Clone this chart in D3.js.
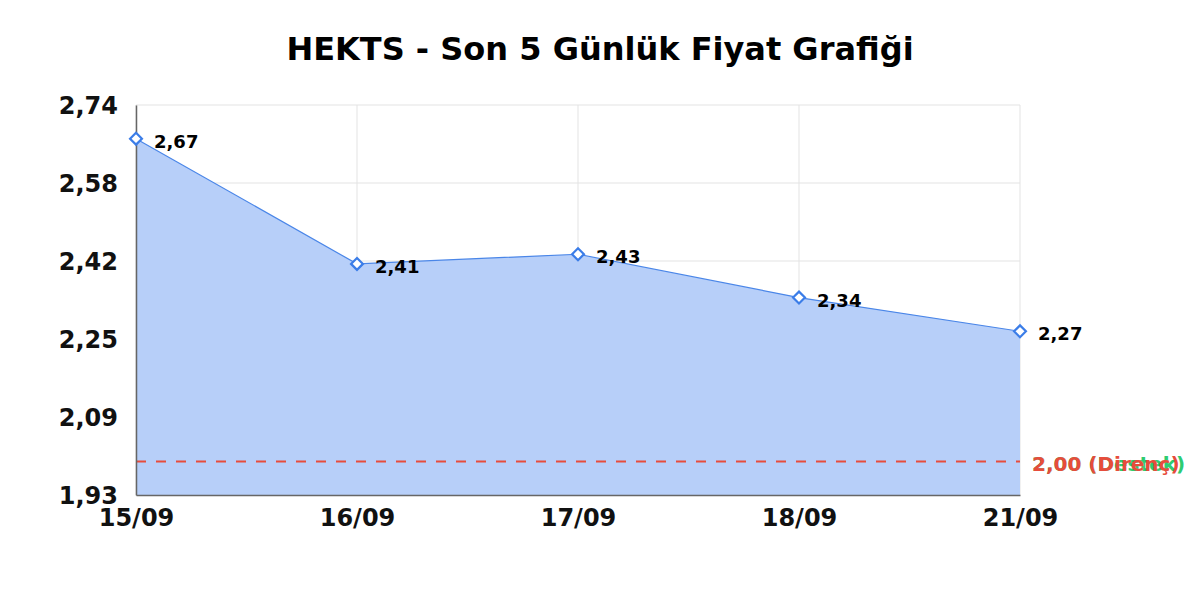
<!DOCTYPE html>
<html>
<head>
<meta charset="utf-8">
<script src="https://cdn.jsdelivr.net/npm/d3@7"></script>
<style>
  body { margin: 0; background: #fff; }
  text { font-family: "DejaVu Sans", sans-serif; font-weight: bold; }
</style>
</head>
<body>
<svg id="chart" width="1200" height="600"></svg>
<script>
const dates = ['15/09', '16/09', '17/09', '18/09', '21/09'];
const prices = [2.67, 2.41, 2.43, 2.34, 2.27];
const yTicks = [1.93, 2.09, 2.25, 2.42, 2.58, 2.74];
const levels = [
  { value: 2.00, label: '2,00 (Destek)', color: '#2ecc71' },
  { value: 2.00, label: '2,00 (Direnç)', color: '#e74c3c' }
];

const fmt = v => v.toFixed(2).replace('.', ',');

const svg = d3.select('#chart');
const m = { left: 136, right: 1020, top: 105, bottom: 495 };

const x = d3.scalePoint().domain(dates).range([m.left, m.right]);
const y = d3.scaleLinear().domain([1.93, 2.74]).range([m.bottom, m.top]);
const tickVals = d3.range(6).map(i => 1.93 + i * 0.162);

svg.append('text')
  .attr('x', 600).attr('y', 60)
  .attr('text-anchor', 'middle')
  .style('font-size', '32px')
  .text('HEKTS - Son 5 Günlük Fiyat Grafiği');

// grid
svg.append('g').selectAll('line').data(tickVals).enter().append('line')
  .attr('x1', m.left).attr('x2', m.right)
  .attr('y1', d => y(d)).attr('y2', d => y(d))
  .attr('stroke', '#e3e3e3');
svg.append('g').selectAll('line').data(dates).enter().append('line')
  .attr('x1', d => x(d)).attr('x2', d => x(d))
  .attr('y1', m.top).attr('y2', m.bottom)
  .attr('stroke', '#e3e3e3');

// area + line
const pts = dates.map((d, i) => ({ d, v: prices[i] }));
svg.append('path').datum(pts)
  .attr('fill', '#b7cff9')
  .attr('d', d3.area().x(p => x(p.d)).y0(y(1.93)).y1(p => y(p.v)));
svg.append('path').datum(pts)
  .attr('fill', 'none').attr('stroke', '#4a86e8').attr('stroke-width', 1.2)
  .attr('d', d3.line().x(p => x(p.d)).y(p => y(p.v)));

// support / resistance (both at the same level, red drawn last and wider so it hides the green)
levels.forEach((l, i) => {
  const ly = Math.round(y(l.value)) + 0.5;
  svg.append('line')
    .attr('x1', m.left).attr('x2', m.right)
    .attr('y1', ly).attr('y2', ly)
    .attr('stroke', l.color)
    .attr('stroke-width', i === levels.length - 1 ? 2 : 1)
    .attr('stroke-dasharray', '10,10');
  svg.append('text')
    .attr('x', m.right + 12).attr('y', y(l.value) + 10)
    .attr('fill', l.color)
    .style('font-size', '20px')
    .text(l.label);
});

// axes
const yAxis = svg.append('g').attr('transform', `translate(${m.left},0)`)
  .call(d3.axisLeft(y).tickValues(tickVals).tickSize(0).tickFormat((d, i) => fmt(yTicks[i])));
yAxis.select('.domain').attr('stroke', '#666').attr('stroke-width', 1.5);
yAxis.selectAll('text').attr('x', -18).attr('dy', '0.35em').style('font-size', '24px').attr('fill', '#111');

const xAxis = svg.append('g').attr('transform', `translate(0,${m.bottom})`)
  .call(d3.axisBottom(x).tickSize(0));
xAxis.select('.domain').attr('stroke', '#666').attr('stroke-width', 1.5);
xAxis.selectAll('text').attr('y', 14).style('font-size', '24px').attr('fill', '#111');

// markers + labels
svg.append('g').selectAll('path').data(pts).enter().append('path')
  .attr('transform', p => `translate(${x(p.d)},${y(p.v)})`)
  .attr('d', d3.symbol().type(d3.symbolDiamond2).size(90))
  .attr('fill', '#fff').attr('stroke', '#3b7de8').attr('stroke-width', 2.2);

svg.append('g').selectAll('text').data(pts).enter().append('text')
  .attr('x', p => x(p.d) + 18).attr('y', p => y(p.v) + 9)
  .style('font-size', '18px')
  .text(p => fmt(p.v));
</script>
</body>
</html>
